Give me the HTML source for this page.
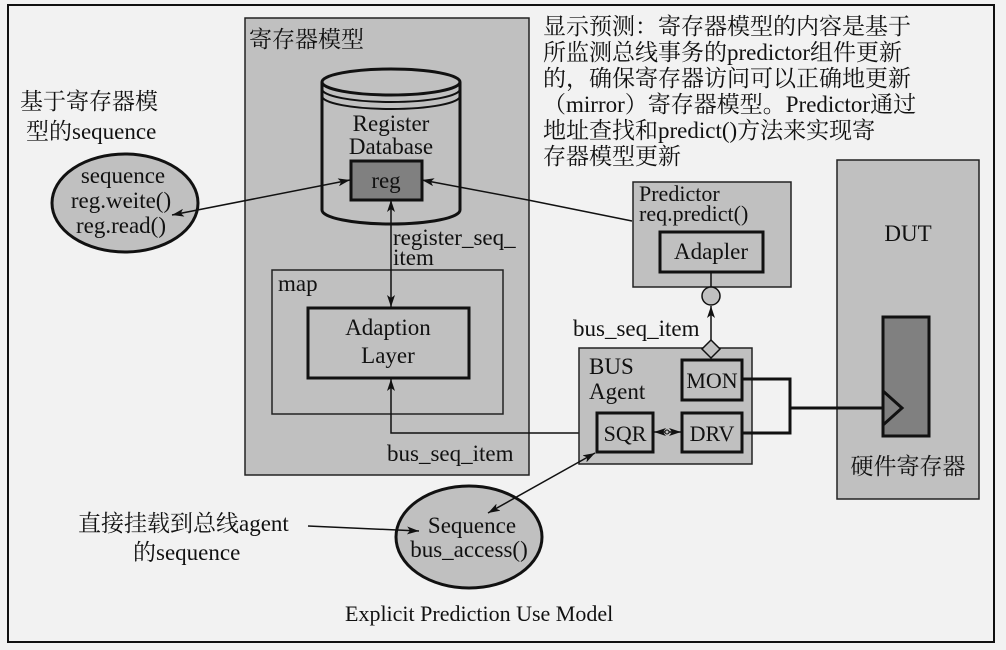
<!DOCTYPE html>
<html><head><meta charset="utf-8"><style>
html,body{margin:0;padding:0;background:#f2f2f2;}
svg{display:block;}
svg text{font-family:"Liberation Serif","Noto Serif CJK SC",serif;fill:#111;}
</style></head><body>
<svg width="1006" height="650" viewBox="0 0 1006 650" xmlns="http://www.w3.org/2000/svg" font-family="'Liberation Serif','Noto Serif CJK SC',serif">
<defs>
<marker id="ah" viewBox="0 0 12 8" refX="12" refY="4" markerWidth="12" markerHeight="8" orient="auto-start-reverse" markerUnits="userSpaceOnUse">
<path d="M0,0 L12,4 L0,8 L3,4 z" fill="#111"/></marker>
</defs>
<rect x="0" y="0" width="1006" height="650" fill="#f2f2f2"/>
<rect x="8" y="5" width="986" height="637" fill="none" stroke="#111" stroke-width="2"/>

<rect x="245" y="18" width="284" height="457" fill="#c0c0c0" stroke="#222" stroke-width="1.5"/>
<text x="249" y="47" font-size="23">寄存器模型</text>

<path d="M322,82 L322,210 A69,14 0 0 0 460,210 L460,82" fill="#c0c0c0" stroke="#111" stroke-width="3"/>
<ellipse cx="391" cy="82" rx="69" ry="13" fill="#c0c0c0" stroke="#111" stroke-width="3"/>
<path d="M322,89 A69,13 0 0 0 460,89" fill="none" stroke="#111" stroke-width="2"/>
<path d="M322,96 A69,13 0 0 0 460,96" fill="none" stroke="#111" stroke-width="2"/>
<text x="391" y="131" font-size="23" text-anchor="middle">Register</text>
<text x="391" y="154" font-size="23" text-anchor="middle">Database</text>
<rect x="351" y="161" width="71" height="39" fill="#808080" stroke="#111" stroke-width="3"/>
<text x="386" y="188" font-size="23" text-anchor="middle">reg</text>

<text x="20" y="109" font-size="23">基于寄存器模</text>
<text x="26" y="139" font-size="23">型的sequence</text>
<ellipse cx="125" cy="203" rx="73" ry="49" fill="#c0c0c0" stroke="#111" stroke-width="3"/>
<text x="123" y="183" font-size="23" text-anchor="middle">sequence</text>
<text x="121" y="208" font-size="23" text-anchor="middle">reg.weite()</text>
<text x="121" y="233" font-size="23" text-anchor="middle">reg.read()</text>
<line x1="172" y1="215" x2="350" y2="180" stroke="#111" stroke-width="1.5" marker-start="url(#ah)" marker-end="url(#ah)"/>

<rect x="272" y="270" width="231" height="144" fill="#c0c0c0" stroke="#222" stroke-width="1.5"/>
<text x="278" y="291" font-size="23">map</text>
<rect x="308" y="308" width="161" height="70" fill="#c0c0c0" stroke="#111" stroke-width="3"/>
<text x="388" y="335" font-size="23" text-anchor="middle">Adaption</text>
<text x="388" y="363" font-size="23" text-anchor="middle">Layer</text>
<line x1="391" y1="200" x2="391" y2="307" stroke="#111" stroke-width="1.5" marker-start="url(#ah)" marker-end="url(#ah)"/>
<text x="393" y="245" font-size="23">register_seq_</text>
<text x="393" y="265" font-size="23">item</text>

<path d="M391,379 L391,433 L596,433" fill="none" stroke="#111" stroke-width="1.5" marker-start="url(#ah)" marker-end="url(#ah)"/>
<text x="387" y="461" font-size="23">bus_seq_item</text>

<g font-size="23">
<text x="543" y="34">显示预测：寄存器模型的内容是基于</text>
<text x="543" y="60">所监测总线事务的predictor组件更新</text>
<text x="543" y="86">的，确保寄存器访问可以正确地更新</text>
<text x="543" y="112">（mirror）寄存器模型。Predictor通过</text>
<text x="543" y="138">地址查找和predict()方法来实现寄</text>
<text x="543" y="164">存器模型更新</text>
</g>

<rect x="633" y="182" width="158" height="105" fill="#c0c0c0" stroke="#222" stroke-width="1.5"/>
<text x="639" y="201" font-size="22">Predictor</text>
<text x="639" y="221" font-size="22">req.predict()</text>
<rect x="660" y="232" width="103" height="40" fill="#c0c0c0" stroke="#111" stroke-width="3"/>
<text x="711" y="259" font-size="23" text-anchor="middle">Adapler</text>
<line x1="528" y1="200" x2="632" y2="221" stroke="#111" stroke-width="1.5"/>
<line x1="422" y1="180" x2="528" y2="200" stroke="#111" stroke-width="1.5" marker-start="url(#ah)"/>
<line x1="711" y1="272" x2="711" y2="287" stroke="#111" stroke-width="1.5"/>
<circle cx="711" cy="296" r="9" fill="#c0c0c0" stroke="#111" stroke-width="1.5"/>
<line x1="711" y1="340" x2="711" y2="306" stroke="#111" stroke-width="1.5" marker-end="url(#ah)"/>
<text x="573" y="336" font-size="23">bus_seq_item</text>

<rect x="579" y="348" width="173" height="116" fill="#c0c0c0" stroke="#222" stroke-width="1.5"/>
<path d="M711,340 L720,349 L711,358 L702,349 z" fill="#c0c0c0" stroke="#111" stroke-width="1.5"/>
<text x="589" y="374" font-size="23">BUS</text>
<text x="589" y="399" font-size="23">Agent</text>
<rect x="682" y="360" width="60" height="40" fill="#c0c0c0" stroke="#111" stroke-width="3"/>
<text x="712" y="388" font-size="22" text-anchor="middle">MON</text>
<rect x="597" y="413" width="56" height="39" fill="#c0c0c0" stroke="#111" stroke-width="3"/>
<text x="625" y="441" font-size="22" text-anchor="middle">SQR</text>
<rect x="682" y="413" width="60" height="39" fill="#c0c0c0" stroke="#111" stroke-width="3"/>
<text x="712" y="441" font-size="22" text-anchor="middle">DRV</text>
<line x1="654" y1="432" x2="681" y2="432" stroke="#111" stroke-width="1.5" marker-start="url(#ah)" marker-end="url(#ah)"/>
<circle cx="667" cy="432" r="2" fill="#c0c0c0" stroke="#111" stroke-width="1"/>

<rect x="837" y="160" width="142" height="339" fill="#c0c0c0" stroke="#222" stroke-width="1.5"/>
<text x="908" y="241" font-size="23" text-anchor="middle">DUT</text>
<rect x="883" y="317" width="46" height="119" fill="#808080" stroke="#111" stroke-width="3"/>
<path d="M883,391 L902,408 L883,425" fill="none" stroke="#111" stroke-width="3"/>
<text x="908" y="474" font-size="23" text-anchor="middle">硬件寄存器</text>
<path d="M742,379 L790,379 L790,433 L742,433" fill="none" stroke="#111" stroke-width="3"/>
<line x1="790" y1="408" x2="883" y2="408" stroke="#111" stroke-width="3"/>

<ellipse cx="469" cy="537" rx="73" ry="51" fill="#c0c0c0" stroke="#111" stroke-width="3"/>
<text x="472" y="533" font-size="23" text-anchor="middle">Sequence</text>
<text x="469" y="557" font-size="23" text-anchor="middle">bus_access()</text>
<line x1="488" y1="513" x2="595" y2="453" stroke="#111" stroke-width="1.5" marker-start="url(#ah)" marker-end="url(#ah)"/>
<text x="78" y="531" font-size="23">直接挂载到总线agent</text>
<text x="133" y="560" font-size="23">的sequence</text>
<line x1="308" y1="526" x2="419" y2="531" stroke="#111" stroke-width="1.5" marker-end="url(#ah)"/>
<text x="345" y="621" font-size="22">Explicit Prediction Use Model</text>
</svg>
</body></html>
